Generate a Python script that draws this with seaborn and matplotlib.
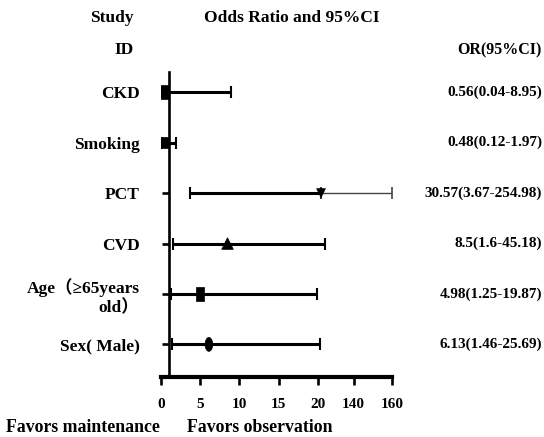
import numpy as np
import pandas as pd
import matplotlib
matplotlib.use('Agg')
import matplotlib.pyplot as plt
import seaborn as sns

# data
studies = ['CKD', 'Smoking', 'PCT', 'CVD', 'Age（≥65years\nold）', 'Sex( Male)']
odds = [0.56, 0.48, 30.57, 8.5, 4.98, 6.13]
lower = [0.04, 0.12, 3.67, 1.6, 1.25, 1.46]
upper = [8.95, 1.97, 254.98, 45.18, 19.87, 25.69]
or_labels = ['0.56(0.04-8.95)', '0.48(0.12-1.97)', '30.57(3.67-254.98)',
             '8.5(1.6-45.18)', '4.98(1.25-19.87)', '6.13(1.46-25.69)']
xticks = [0, 5, 10, 15, 20, 140, 160]

sns.set_style('ticks', {'axes.edgecolor': 'black', 'xtick.color': 'black',
                        'ytick.color': 'black', 'text.color': 'black'})
plt.rcParams['font.family'] = ['Liberation Serif', 'Noto Sans CJK SC']
plt.rcParams['font.weight'] = 'bold'

W, H = 544, 437
fig = plt.figure(figsize=(W / 100, H / 100), dpi=100)
ax = fig.add_axes([160.7 / W, 1 - 376.7 / H, (392 - 160.7) / W, (376.7 - 72) / H])

# broken axis: 0-20 linear, then 20-160 squeezed
nodes_v = [0, 20, 140, 160]
nodes_u = [0, 20, 24.54, 29.43]
ax.set_xscale('function', functions=(lambda x: np.interp(x, nodes_v, nodes_u),
                                     lambda u: np.interp(u, nodes_u, nodes_v)))

df = pd.DataFrame({'Study': studies, 'OR': odds, 'lo': lower, 'hi': upper,
                   'pos': np.arange(len(studies))})

xmax = 160
for i, r in df.iterrows():
    if r['hi'] > xmax:
        # thick to the point, thin past it
        ax.errorbar(r['OR'], r['pos'], xerr=[[r['OR'] - r['lo']], [0]], fmt='none',
                    ecolor='black', elinewidth=2.2, capsize=4.3, capthick=1.5)
        ax.errorbar(r['OR'], r['pos'], xerr=[[0], [r['hi'] - r['OR']]], fmt='none',
                    ecolor='#444444', elinewidth=1.0, capsize=4.3, capthick=1.2)
    else:
        ax.errorbar(r['OR'], r['pos'], xerr=[[r['OR'] - r['lo']], [r['hi'] - r['OR']]],
                    fmt='none', ecolor='black', elinewidth=2.2, capsize=4.3, capthick=1.5)

tall_rect = [(-0.55, -1), (0.55, -1), (0.55, 1), (-0.55, 1), (-0.55, -1)]
t = np.linspace(0, 2 * np.pi, 40)
tall_oval = list(zip(0.55 * np.cos(t), np.sin(t)))
markers = {studies[0]: tall_rect, studies[1]: tall_rect, studies[2]: 'v',
           studies[3]: '^', studies[4]: tall_rect, studies[5]: tall_oval}
sizes = {studies[0]: 110, studies[1]: 70, studies[2]: 40,
         studies[3]: 70, studies[4]: 100, studies[5]: 100}
sns.scatterplot(data=df, x='OR', y='pos', style='Study', markers=markers,
                size='Study', sizes=sizes, color='black', edgecolor='black',
                linewidth=0.5, legend=False, ax=ax, zorder=5)

ax.set_xlim(0, xmax)
ax.set_ylim(len(studies) - 1 + 0.64, -0.40)
ax.set_xticks(xticks)
ax.set_xticklabels([str(v) for v in xticks])
ax.set_yticks(df['pos'])
ax.set_yticklabels(studies, ha='right', multialignment='right')
ax.set_xlabel('')
ax.set_ylabel('')

for s in ['top', 'right']:
    ax.spines[s].set_visible(False)
ax.spines['left'].set_position(('data', 1))
ax.spines['left'].set_linewidth(1.9)
ax.spines['bottom'].set_linewidth(3)
ax.tick_params(axis='y', direction='out', length=5, width=1.9, pad=16, labelsize=12.5)
ax.tick_params(axis='x', direction='out', length=5.5, width=1.9, pad=10, labelsize=11)
for lab in ax.get_xticklabels() + ax.get_yticklabels():
    lab.set_fontweight('bold')

def ftext(x, y, s, **kw):
    fig.text(x / W, 1 - y / H, s, fontweight='bold', va='center', **kw)

ftext(134, 18, 'Study', ha='right', fontsize=12.5)
ftext(204, 18, 'Odds Ratio and 95%CI', ha='left', fontsize=12.5)
ftext(134, 50, 'ID', ha='right', fontsize=12.5)
ftext(542, 50, 'OR(95%CI)', ha='right', fontsize=11.5)
for i, lab in enumerate(or_labels):
    y = ax.transData.transform((0, i))[1]
    fig.text(542 / W, y / (H), lab, ha='right', va='center', fontsize=11, fontweight='bold')
ftext(6, 428, 'Favors maintenance', ha='left', fontsize=12.8)
ftext(187, 428, 'Favors observation', ha='left', fontsize=12.8)

fig.savefig('out.png', dpi=100)
